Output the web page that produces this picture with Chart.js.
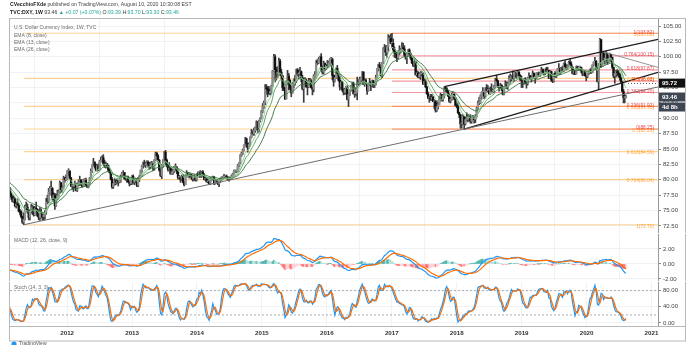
<!DOCTYPE html>
<html>
<head>
<meta charset="utf-8">
<script src="https://cdn.jsdelivr.net/npm/chart.js@4.4.1/dist/chart.umd.min.js"></script>
<style>
  html, body { margin: 0; padding: 0; background: #fff; }
  body { width: 693px; height: 345px; overflow: hidden; position: relative; }
  canvas { position: absolute; left: 0; }
  #main { top: 0; }
  #macd { top: 234px; }
  #stoch { top: 282px; }
</style>
</head>
<body>
<canvas id="main" width="693" height="233"></canvas>
<canvas id="macd" width="693" height="47"></canvas>
<canvas id="stoch" width="693" height="63"></canvas>
<script>
// Weekly DXY bars, [high, low, close]; each block starts on the Monday listed in blockStarts.
const dxy2010 = [
  [85.4,83.8,84.2],[84.5,82.6,82.9],[83.4,81.9,82.5],[83.0,81.5,81.6],
  [81.9,80.1,80.1],[82.6,80.1,82.4],[83.2,81.9,83.0],[83.7,82.5,82.9],[83.0,81.9,82.3],
  [83.2,82.2,82.8],[82.9,81.3,81.4],[81.5,79.9,80.0],[80.2,78.3,78.6],
  [78.7,77.0,77.4],[77.8,76.4,77.2],[77.9,76.8,77.3],[77.5,76.7,76.9],
  [77.2,75.6,76.4],[78.8,76.3,78.6],[79.4,78.0,78.4],[80.5,78.2,80.4],[81.4,79.2,79.4],
  [80.3,78.8,79.9],[80.8,79.5,80.4],[80.9,80.0,80.5],[80.7,78.9,79.0]
];
const dxy2011 = [
  [81.0,78.9,80.9],[81.4,79.1,79.4],[79.6,78.1,78.3],[78.5,77.3,77.8],
  [78.2,76.9,77.6],[78.8,77.4,78.4],[78.8,77.6,77.7],[77.9,76.8,77.2],
  [77.4,76.4,76.5],[77.4,76.3,76.9],[77.1,75.6,75.8],[76.3,75.4,76.1],
  [76.9,75.8,75.9],[76.2,74.8,74.9],[75.2,74.3,74.7],[75.0,73.8,74.0],[74.1,72.9,73.1],
  [74.7,72.7,73.6],[75.9,73.5,75.5],[76.4,75.1,75.6],[76.1,74.6,74.9],
  [75.0,73.5,73.9],[75.1,73.5,74.9],[76.0,74.6,75.4],[75.9,74.4,75.6],
  [75.7,74.1,74.3],[75.6,74.2,75.4],[76.4,74.8,75.2],[75.3,74.0,74.2],[74.6,73.5,73.9],
  [75.5,73.4,74.8],[75.3,73.8,74.6],[74.7,73.5,74.0],[74.5,73.4,74.3],
  [75.0,73.6,74.6],[77.0,74.4,76.9],[77.5,76.1,76.5],[78.6,76.3,78.0],[78.9,77.5,78.6],
  [79.8,78.3,78.6],[78.8,76.7,77.0],[77.9,76.5,77.5],[77.8,75.2,75.8],
  [77.7,75.7,76.9],[78.3,76.8,77.4],[78.4,77.3,78.1],[79.8,77.8,79.5],
  [79.6,77.9,78.4],[79.0,78.0,78.7],[80.6,78.5,80.3],[80.4,79.6,80.0],[80.8,79.9,80.2]
];
const dxy2012 = [
  [81.5,80.1,81.4],[81.8,80.7,81.4],[81.5,80.1,80.3],[80.4,78.9,79.0],
  [79.3,78.5,79.0],[79.1,78.1,79.0],[79.8,78.7,79.3],[79.4,78.2,78.3],
  [79.5,78.1,79.3],[80.0,79.0,79.5],[80.6,79.1,80.0],[80.0,79.1,79.4],[79.7,78.8,78.9],
  [80.1,78.9,79.9],[80.2,79.3,79.9],[80.3,79.0,79.1],[79.3,78.8,78.8],
  [79.6,78.7,79.4],[80.4,79.3,80.3],[81.8,80.2,81.4],[82.5,81.2,82.4],
  [83.5,82.2,82.9],[82.9,81.9,82.4],[82.6,81.5,81.6],[82.5,81.4,82.3],[82.6,81.5,81.6],
  [83.2,81.6,83.0],[83.7,82.9,83.2],[83.9,82.9,83.6],[84.1,82.4,82.6],
  [83.2,82.0,82.3],[82.9,81.9,82.6],[82.7,82.1,82.3],[82.4,81.4,81.6],[81.9,81.1,81.2],
  [81.4,80.0,80.1],[80.4,78.6,78.9],[79.5,78.6,79.4],[80.2,79.1,79.9],
  [80.0,79.2,79.6],[80.2,79.4,79.7],[79.9,79.0,79.6],[80.2,79.5,80.0],
  [80.8,79.6,80.6],[81.2,80.4,81.0],[81.5,80.8,81.2],[81.2,80.1,80.2],[80.4,79.9,80.1],
  [80.6,79.6,80.4],[80.6,79.6,79.7],[79.7,79.0,79.4],[80.0,79.2,79.8],
  [80.7,79.2,80.6]
];
const dxy2013 = [
  [80.8,79.4,79.6],[80.1,79.2,79.9],[80.2,79.5,79.9],
  [80.0,78.9,79.1],[80.4,78.9,80.2],[80.7,79.7,80.5],[81.6,80.4,81.5],
  [82.4,81.2,82.3],[82.9,81.9,82.7],[83.2,82.2,82.4],[82.9,82.0,82.6],[83.1,82.4,82.9],
  [83.1,82.1,82.6],[82.8,81.7,82.1],[82.9,81.8,82.6],[83.0,82.1,82.6],
  [82.7,81.5,81.9],[83.3,81.6,83.2],[84.5,83.1,84.3],[84.5,83.3,83.9],[84.1,82.9,83.2],
  [83.3,81.4,81.6],[81.8,80.5,80.7],[82.5,80.2,82.3],[83.3,82.1,83.1],
  [84.6,82.9,84.5],[84.8,82.5,83.2],[83.4,82.1,82.4],[82.5,81.4,81.7],
  [82.8,81.6,81.9],[82.0,80.9,81.0],[81.8,80.9,81.3],[81.8,80.9,81.4],[82.2,81.2,82.1],
  [82.6,81.6,82.1],[82.1,81.0,81.4],[81.5,80.1,80.4],[80.7,80.1,80.4],
  [80.6,79.6,80.1],[80.8,79.9,80.6],[80.8,79.5,79.6],[79.7,79.0,79.2],
  [80.8,79.2,80.7],[81.5,80.4,81.1],[81.2,80.6,80.9],[81.1,80.3,80.9],[81.0,80.5,80.7],
  [80.9,80.0,80.2],[80.4,79.8,80.2],[80.8,79.9,80.5],[80.6,79.8,80.0],
  [81.0,79.8,80.9]
];
const dxy2014 = [
  [81.3,80.5,80.6],[81.3,80.4,81.2],[81.5,80.4,80.6],[81.4,80.4,81.3],
  [81.5,80.6,80.7],[81.0,80.0,80.1],[80.5,79.9,80.2],[80.4,79.6,79.7],
  [80.3,79.5,79.7],[80.0,79.3,79.4],[80.4,79.2,80.2],[80.4,79.9,80.2],
  [80.6,80.1,80.5],[80.5,79.2,79.4],[80.0,79.3,79.9],[80.0,79.6,79.8],
  [79.9,79.2,79.4],[80.0,78.9,79.9],[80.3,79.6,80.2],[80.5,79.9,80.4],[80.6,80.1,80.4],
  [80.9,80.2,80.5],[80.7,80.3,80.6],[80.8,80.3,80.4],[80.5,79.9,80.1],
  [80.5,79.8,80.3],[80.4,80.0,80.1],[80.8,80.1,80.6],[81.1,80.5,81.0],
  [81.6,80.9,81.4],[81.6,81.2,81.4],[81.6,81.2,81.4],[82.5,81.3,82.3],[82.8,82.1,82.7],
  [84.1,82.6,84.0],[84.5,83.8,84.3],[85.0,84.1,84.8],[85.7,84.7,85.6],
  [86.9,85.5,86.7],[86.8,85.3,85.8],[86.0,84.5,85.2],[86.0,85.1,85.8],[87.0,85.5,86.9],
  [88.2,86.8,87.6],[88.0,87.3,87.5],[88.4,87.2,88.0],[88.6,87.7,88.4],
  [89.6,88.1,89.4],[89.5,87.6,88.4],[89.7,87.8,89.6],[90.1,89.4,89.9],
  [91.3,89.9,91.1]
];
const dxy2015 = [
  [92.4,90.9,91.9],[92.8,91.6,92.5],[95.5,92.2,95.0],[95.5,93.9,94.8],
  [95.2,93.5,94.6],[95.2,93.9,94.1],[94.8,93.8,94.4],[95.4,94.0,95.3],
  [97.8,95.2,97.7],[100.4,97.6,100.0],[100.3,95.9,97.9],[98.3,96.2,97.2],
  [98.4,96.6,97.5],[99.8,96.9,99.3],[99.6,97.2,97.5],[98.0,96.4,96.9],
  [97.0,94.5,95.0],[96.0,94.5,94.8],[95.0,93.1,93.1],[96.1,93.2,96.0],[97.8,95.5,96.9],
  [97.3,94.6,96.2],[96.3,94.6,94.9],[95.3,93.5,94.1],[95.8,94.1,95.5],
  [96.4,94.9,96.3],[97.0,95.4,96.1],[98.0,95.8,97.9],[98.1,96.9,97.2],[97.8,96.4,97.3],
  [98.3,97.0,97.6],[97.7,95.9,96.6],[97.0,94.6,94.8],[96.5,92.6,96.1],
  [96.6,95.2,96.2],[96.4,95.0,95.2],[95.8,93.8,95.1],[96.5,95.0,96.0],
  [96.5,95.3,96.1],[96.3,94.9,95.0],[95.1,93.8,94.7],[97.1,94.3,96.9],[97.6,96.3,96.9],
  [99.4,96.9,99.3],[99.6,98.7,99.0],[99.9,98.9,99.6],[100.1,99.3,100.0],
  [100.5,97.7,98.4],[98.6,97.2,97.5],[99.3,97.2,98.9],[99.0,97.7,98.0],
  [98.7,97.9,98.6]
];
const dxy2016 = [
  [99.4,98.2,98.5],[99.3,98.4,99.0],[99.7,98.6,99.6],[99.9,98.8,99.6],
  [99.8,96.3,97.0],[97.1,95.2,96.0],[97.0,95.9,96.6],[98.2,96.5,98.1],
  [98.6,97.2,97.3],[97.6,96.0,96.2],[96.9,94.6,95.1],[96.1,94.9,95.9],
  [96.0,94.4,94.6],[94.8,93.8,94.2],[94.9,93.9,94.7],[95.2,93.9,95.1],[95.3,93.0,93.1],
  [94.0,91.9,93.9],[94.7,93.7,94.6],[95.3,94.4,95.3],[95.8,95.1,95.5],
  [95.9,93.9,94.0],[94.2,93.4,94.1],[95.0,93.7,94.2],[96.7,93.0,95.6],
  [96.3,95.3,95.6],[96.7,95.5,96.3],[96.7,95.8,96.6],[97.6,96.5,97.5],[97.6,95.5,95.5],
  [96.4,95.2,96.2],[96.4,95.6,95.7],[95.7,93.9,94.5],[95.6,94.4,95.5],
  [96.5,95.4,95.8],[96.0,94.5,95.3],[96.2,95.1,96.1],[96.2,95.0,95.4],[95.8,95.0,95.5],
  [97.0,95.4,96.6],[98.1,96.4,98.0],[98.8,97.7,98.7],[99.1,98.2,98.3],
  [98.3,96.9,97.0],[99.1,96.6,99.0],[101.5,98.9,101.2],[102.0,100.8,101.5],
  [101.8,100.2,100.7],[101.8,99.9,101.6],[103.6,100.9,102.9],[103.4,102.6,103.0],[103.7,102.1,102.2]
];
const dxy2017 = [
  [103.8,101.5,102.2],[102.9,100.9,101.2],[101.6,99.9,100.7],[100.8,99.8,100.5],
  [100.6,99.2,99.8],[101.0,99.7,100.8],[101.8,100.3,101.0],[101.4,100.6,101.1],
  [102.3,101.0,101.5],[102.2,101.1,101.3],[101.8,100.1,100.3],[100.5,99.6,99.8],[100.7,98.9,100.4],
  [101.2,100.3,101.1],[101.3,100.3,100.5],[100.6,99.5,99.8],[99.9,98.9,99.0],
  [99.2,98.4,98.6],[99.7,98.5,99.2],[99.2,97.0,97.1],[97.7,96.8,97.4],
  [97.6,96.6,96.7],[97.4,96.5,97.2],[97.6,96.3,97.2],[97.6,96.9,97.3],[97.4,95.5,95.6],
  [96.4,95.6,96.0],[96.3,95.0,95.1],[95.2,93.9,94.0],[94.3,93.2,93.3],
  [93.6,92.6,93.5],[93.9,92.9,93.1],[93.9,92.9,93.4],[93.6,92.7,92.7],
  [93.0,91.6,92.8],[92.9,91.0,91.3],[92.5,91.1,91.9],[92.9,91.5,92.2],[93.6,92.2,93.1],
  [94.1,92.8,93.8],[93.9,92.8,93.1],[93.9,92.8,93.7],[95.1,93.3,94.9],
  [95.1,94.3,94.8],[95.0,94.2,94.4],[94.5,93.5,93.7],[94.0,92.6,92.8],
  [93.5,92.5,93.1],[94.1,92.9,93.9],[94.2,93.1,93.9],[94.0,93.0,93.3],[93.4,92.1,92.1]
];
const dxy2018 = [
  [92.3,91.7,91.9],[92.5,90.8,90.9],[91.0,90.1,90.6],[90.6,88.4,89.1],
  [89.4,88.4,89.2],[90.6,89.0,90.3],[90.3,88.25,89.1],[90.2,88.9,89.8],
  [90.9,89.6,89.9],[90.6,89.4,90.1],[90.4,89.6,90.2],[90.6,89.2,89.5],[90.2,89.2,90.1],
  [90.5,89.8,90.1],[90.1,89.2,89.8],[90.6,89.3,90.3],[91.8,90.2,91.6],
  [92.8,91.5,92.5],[93.4,92.2,92.5],[93.8,92.4,93.6],[94.3,93.1,94.2],
  [95.0,93.8,94.2],[94.2,93.2,93.6],[95.0,93.3,94.8],[95.5,94.4,94.5],[95.3,94.3,94.5],
  [94.9,93.9,94.0],[95.1,93.9,94.7],[95.6,94.3,94.4],[94.8,94.1,94.6],
  [95.4,94.3,95.1],[96.5,94.9,96.4],[97.0,95.9,96.1],[96.2,95.0,95.2],[95.4,94.4,95.1],
  [95.7,94.8,95.4],[95.5,94.5,94.9],[95.0,93.8,93.9],[95.2,93.8,95.1],
  [96.1,94.9,95.6],[95.9,94.8,95.2],[95.9,94.7,95.7],[96.9,95.5,96.4],
  [97.2,95.7,96.4],[97.0,96.0,96.9],[97.7,96.4,96.5],[97.0,96.0,96.9],[97.5,96.8,97.2],
  [97.4,96.4,96.6],[97.6,96.6,97.5],[97.6,96.6,96.9],[97.1,96.1,96.3],
  [96.9,95.0,96.2]
];
const dxy2019 = [
  [96.3,95.0,95.7],[96.4,95.5,96.4],[96.6,95.7,95.8],
  [95.9,94.9,95.6],[96.7,95.4,96.6],[97.4,96.4,96.9],[97.0,96.3,96.5],
  [96.9,95.9,96.5],[97.7,96.4,97.3],[97.4,96.5,96.6],[96.8,95.7,96.6],[97.4,96.5,97.3],
  [97.5,96.9,97.4],[97.5,96.8,97.0],[97.5,96.8,97.4],[98.3,97.3,98.0],
  [98.0,97.2,97.5],[97.8,97.0,97.3],[98.0,97.1,98.0],[98.3,97.5,97.6],[98.3,97.5,97.8],
  [97.8,96.5,96.5],[97.7,96.5,97.6],[97.7,96.0,96.2],[96.4,95.8,96.1],
  [97.3,95.9,97.3],[97.6,96.7,96.8],[97.2,96.6,97.2],[98.1,97.1,98.0],
  [98.9,97.9,98.1],[98.2,97.1,97.5],[98.3,97.4,98.1],[98.5,97.6,97.7],[99.0,97.6,98.9],
  [99.4,98.1,98.4],[98.7,97.9,98.3],[98.7,98.1,98.5],[99.3,98.4,99.1],
  [99.7,98.7,98.8],[99.2,98.2,98.3],[98.4,97.2,97.3],[97.9,97.1,97.8],
  [97.9,97.1,97.2],[98.5,97.2,98.4],[98.5,97.9,98.0],[98.4,97.8,98.3],[98.5,98.1,98.3],
  [98.3,97.4,97.7],[97.8,96.9,97.2],[97.8,97.0,97.7],[97.7,96.9,96.9],
  [96.9,96.1,96.8]
];
const dxy2020 = [
  [97.5,96.6,97.4],[97.7,97.1,97.6],[98.0,97.3,97.9],[98.2,97.3,97.4],
  [98.7,97.4,98.7],[99.2,98.5,99.1],[99.9,99.1,99.3],[99.4,97.9,98.1],
  [98.3,95.9,96.0],[98.9,94.65,98.7],[103.0,98.6,102.8],[102.8,98.3,98.4],
  [100.9,98.4,100.6],[100.8,99.3,99.5],[100.4,98.8,99.8],[100.9,99.7,100.4],
  [100.6,98.8,99.1],[100.2,99.0,99.7],[100.6,99.6,100.4],[100.4,99.2,99.9],[99.9,98.1,98.3],
  [98.3,96.6,96.9],[97.4,95.7,97.3],[97.8,96.7,97.6],[97.9,96.9,97.4],
  [97.8,96.7,97.2],[97.3,96.2,96.6],[96.8,95.7,96.0],[96.0,94.3,94.4],[94.7,92.5,93.35],
  [93.9,92.5,93.39],[93.70,93.30,93.46]
];
const blocks = [dxy2010, dxy2011, dxy2012, dxy2013, dxy2014, dxy2015, dxy2016, dxy2017, dxy2018, dxy2019, dxy2020];
const blockStarts = ['2010-07-05', '2011-01-03', '2012-01-02', '2013-01-07', '2014-01-06', '2015-01-05',
  '2016-01-04', '2017-01-02', '2018-01-01', '2019-01-07', '2020-01-06'];

const priceTicks = [72.5, 75, 77.5, 80, 82.5, 85, 87.5, 90, 92.5, 95, 97.5, 100, 102.5, 105];
const macdTicks = [-2, 0, 2];
const stochTicks = [0, 40, 80];
const stochBands = [80, 20];
const yearTicks = [2012, 2013, 2014, 2015, 2016, 2017, 2018, 2019, 2020, 2021];

// fibonacci retracements: [start date, level-0 price, level-1 price]
const fibRatios = [0, 0.236, 0.382, 0.5, 0.618, 0.764, 1];
const longFib = ['2011-05-02', 103.82, 72.70];
const shortFib = ['2017-01-02', 88.25, 103.82];

// trend lines: [date A, price A, date B, price B], extended to the right edge
const supportLine = ['2011-05-02', 72.70, '2018-02-12', 88.25];
const channelTop = ['2017-10-23', 95.15, '2019-09-30', 99.67];
const channelBottom = ['2018-02-12', 88.25, '2020-03-09', 94.65];
const fadeLine = ['2020-04-06', 100.8, '2020-10-05', 99.3];

const lastMark = 95.72;
const lastClose = 93.46;

const X_MIN = 2011.12, X_MAX = 2021.10;
const FONT = '"Liberation Sans", Arial, sans-serif';
Chart.defaults.font.family = FONT;

const DAY = 864e5;
function yearOf(iso, weeks = 0) {
  const t = Date.parse(iso + 'T00:00:00Z') + weeks * 7 * DAY;
  const y = new Date(t).getUTCFullYear();
  const a = Date.UTC(y, 0, 1), b = Date.UTC(y + 1, 0, 1);
  return y + (t - a) / (b - a);
}

// flatten the blocks into bars; weekly open is the prior week's close
const bars = [];
blocks.forEach((block, b) => {
  block.forEach(([h, l, c], k) => bars.push({ x: yearOf(blockStarts[b], k), h, l, c }));
});
bars.forEach((bar, i) => { bar.o = i ? bars[i - 1].c : bar.c; });

const closes = bars.map(b => b.c);

function ema(src, n) {
  const k = 2 / (n + 1);
  let prev = src[0];
  return src.map((v, i) => (prev = i === 0 ? v : v * k + prev * (1 - k)));
}
function sma(src, n) {
  return src.map((v, i) => {
    const s = Math.max(0, i - n + 1);
    let sum = 0;
    for (let j = s; j <= i; j++) sum += src[j];
    return sum / (i - s + 1);
  });
}
const pts = arr => arr.map((y, i) => ({ x: bars[i].x, y }));

const ema8 = ema(closes, 8), ema13 = ema(closes, 13), ema26 = ema(closes, 26);
const ema12 = ema(closes, 12);
const macdLine = ema12.map((v, i) => v - ema26[i]);
const signal = ema(macdLine, 9);
const hist = macdLine.map((v, i) => v - signal[i]);

const rawK = bars.map((b, i) => {
  let hh = -Infinity, ll = Infinity;
  for (let j = Math.max(0, i - 13); j <= i; j++) { hh = Math.max(hh, bars[j].h); ll = Math.min(ll, bars[j].l); }
  return hh === ll ? 50 : 100 * (b.c - ll) / (hh - ll);
});
const stochK = sma(rawK, 3);
const stochD = sma(stochK, 3);

function extend(line) {
  const x1 = yearOf(line[0]), x2 = yearOf(line[2]);
  const slope = (line[3] - line[1]) / (x2 - x1);
  return [{ x: x1, y: line[1] }, { x: X_MAX, y: line[1] + slope * (X_MAX - x1) }];
}
function fibValues(fib) {
  return fibRatios.map(r => ({ r, v: fib[1] + r * (fib[2] - fib[1]) }));
}

const GRID = '#f0f2f6';
const AXIS_W = 27;

function xScale(showLabels) {
  return {
    type: 'linear', min: X_MIN, max: X_MAX, offset: false,
    afterBuildTicks: s => { s.ticks = yearTicks.map(v => ({ value: v })); },
    afterFit: s => { s.height = showLabels ? 15 : 0; s.paddingLeft = 0; s.paddingRight = 0; },
    grid: { color: GRID, drawTicks: false },
    border: { display: false },
    ticks: showLabels
      ? { display: true, padding: 4, color: '#333', font: { size: 6.2, weight: 'bold' }, callback: v => String(v), maxRotation: 0, autoSkip: false }
      : { display: false }
  };
}
function yScale(min, max, ticks, digits) {
  return {
    position: 'right', min, max,
    afterBuildTicks: s => { s.ticks = ticks.map(v => ({ value: v })); },
    afterFit: s => { s.width = AXIS_W; s.paddingTop = 0; s.paddingBottom = 0; },
    grid: { color: GRID, tickLength: 3, tickColor: '#888' },
    border: { display: true, color: '#9a9a9a' },
    ticks: { padding: 2, color: '#444', font: { size: 6 }, autoSkip: false, callback: v => v.toFixed(digits) }
  };
}
const baseOpts = {
  responsive: false, animation: false, events: [],
  plugins: { legend: { display: false }, tooltip: { enabled: false } }
};

function frame(chart, ctx) {
  const a = chart.chartArea;
  ctx.save();
  ctx.strokeStyle = '#b8b8b8';
  ctx.lineWidth = 1;
  ctx.strokeRect(a.left - 0.5, a.top - 0.5, a.right - a.left + AXIS_W + 1, a.bottom - a.top + 1);
  ctx.restore();
}
function paneText(ctx, lines, x, y0, step) {
  ctx.save();
  ctx.font = `5px ${FONT}`;
  ctx.fillStyle = '#6b6b6b';
  ctx.textBaseline = 'middle';
  lines.forEach((t, i) => ctx.fillText(t, x, y0 + i * step));
  ctx.restore();
}
function runs(ctx, parts, x, y) {
  parts.forEach(([t, color, bold]) => {
    ctx.font = `${bold ? 'bold ' : ''}5.2px ${FONT}`;
    ctx.fillStyle = color;
    ctx.fillText(t, x, y);
    x += ctx.measureText(t).width;
  });
}

// ---------- price pane ----------
const longLevels = fibValues(longFib);
const shortLevels = fibValues(shortFib);
const FIB_LONG = 'rgba(255,152,0,0.42)';
const FIB_SHORT = 'rgba(242,54,69,0.5)';

const fibSets = [
  ...longLevels.map(({ v }) => ({ start: longFib[0], v, color: FIB_LONG })),
  ...shortLevels.map(({ v }) => ({ start: shortFib[0], v, color: FIB_SHORT }))
].map(f => ({
  type: 'line', data: [{ x: yearOf(f.start), y: f.v }, { x: X_MAX, y: f.v }],
  borderColor: f.color, borderWidth: 1.2, pointRadius: 0, order: 10
}));

const trendSets = [
  [supportLine, '#6e6e6e', 1],
  [channelTop, '#1c1c1c', 1.3],
  [channelBottom, '#1c1c1c', 1.3],
  [fadeLine, '#8a8a8a', 0.9]
].map(([line, color, w]) => ({
  type: 'line', data: extend(line), borderColor: color, borderWidth: w, pointRadius: 0, order: 1
}));

const overlayMain = {
  id: 'overlayMain',
  afterDraw(chart) {
    const { ctx, chartArea: a, scales: { x, y } } = chart;
    frame(chart, ctx);
    ctx.save();
    ctx.textBaseline = 'middle';
    runs(ctx, [['CVecchioFXde', '#222', true], [' published on TradingView.com, August 10, 2020 10:30:08 EST', '#444', false]], 10, 5);
    runs(ctx, [['TVC:DXY, 1W', '#222', true], [' 93.46 ', '#333', false], ['\u25B2 +0.07 (+0.07%)', '#26a69a', false],
      [' O:', '#333', false], ['93.39', '#26a69a', false], [' H:', '#333', false], ['93.70', '#26a69a', false],
      [' L:', '#333', false], ['93.30', '#26a69a', false], [' C:', '#333', false], ['93.46', '#26a69a', false]], 10, 13);
    ctx.restore();

    paneText(ctx, ['U.S. Dollar Currency Index, 1W, TVC', 'EMA (8, close)', 'EMA (13, close)', 'EMA (26, close)'], a.left + 4, a.top + 9, 7.2);

    // fib labels at the right edge
    ctx.save();
    ctx.font = `4.8px ${FONT}`;
    ctx.textAlign = 'right';
    ctx.textBaseline = 'middle';
    longLevels.forEach(({ r, v }) => {
      ctx.fillStyle = 'rgba(255,140,0,0.75)';
      ctx.fillText(`${r}(${v.toFixed(2)})`, a.right - 4, y.getPixelForValue(v) + 1.5);
    });
    shortLevels.forEach(({ r, v }) => {
      ctx.fillStyle = 'rgba(230,40,50,0.85)';
      ctx.fillText(`${r}(${v.toFixed(2)})`, a.right - 4, y.getPixelForValue(v) - 1);
    });
    ctx.restore();

    // dotted line from the last bar to the axis
    ctx.save();
    const py = Math.round(y.getPixelForValue(lastMark)) + 0.5;
    ctx.strokeStyle = '#555';
    ctx.setLineDash([1, 2]);
    ctx.beginPath();
    ctx.moveTo(x.getPixelForValue(bars[bars.length - 1].x) + 2, py);
    ctx.lineTo(a.right, py);
    ctx.stroke();
    ctx.restore();

    // axis value tags
    ctx.save();
    ctx.font = `bold 6px ${FONT}`;
    ctx.textBaseline = 'middle';
    ctx.textAlign = 'left';
    const tag = (val, bg, text, dy) => {
      const cy = y.getPixelForValue(val) + dy;
      ctx.fillStyle = bg;
      ctx.fillRect(a.right + 1, cy - 4.5, AXIS_W - 1, 9);
      ctx.fillStyle = '#fff';
      ctx.fillText(text, a.right + 4, cy + 0.3);
    };
    tag(lastMark, '#111', lastMark.toFixed(2), 0);
    tag(lastClose, '#3e4654', lastClose.toFixed(2), 0);
    tag(lastClose, '#3e4654', '4d 8h', 10);
    ctx.restore();
  }
};

new Chart(document.getElementById('main'), {
  type: 'bar',
  data: {
    datasets: [
      ...fibSets,
      {
        type: 'bar', grouped: false, order: 6,
        data: bars.map(b => ({ x: b.x, y: [b.l, b.h] })),
        backgroundColor: '#3c3c3c', barThickness: 1, borderWidth: 0
      },
      {
        type: 'bar', grouped: false, order: 5, minBarLength: 1,
        data: bars.map(b => ({ x: b.x, y: [Math.min(b.o, b.c), Math.max(b.o, b.c)] })),
        backgroundColor: bars.map(b => (b.c >= b.o ? '#8d8d8d' : '#111')), barThickness: 1.6, borderWidth: 0
      },
      { type: 'line', data: pts(ema8), borderColor: '#8bc98d', borderWidth: 0.9, pointRadius: 0, order: 3 },
      { type: 'line', data: pts(ema13), borderColor: '#4f9e55', borderWidth: 0.9, pointRadius: 0, order: 3 },
      { type: 'line', data: pts(ema26), borderColor: '#2f6f35', borderWidth: 0.9, pointRadius: 0, order: 3 },
      ...trendSets
    ]
  },
  options: {
    ...baseOpts,
    layout: { padding: { left: 10, right: 693 - 658 - AXIS_W, top: 19, bottom: 0 } },
    scales: { x: xScale(false), y: yScale(71.36, 106.14, priceTicks, 2) }
  },
  plugins: [overlayMain]
});

// ---------- MACD pane ----------
const histColors = hist.map((h, i) => {
  const prev = i ? hist[i - 1] : h;
  if (h >= 0) return h >= prev ? 'rgba(38,166,154,0.75)' : 'rgba(178,223,219,0.9)';
  return h <= prev ? 'rgba(255,82,82,0.75)' : 'rgba(255,205,210,0.9)';
});
new Chart(document.getElementById('macd'), {
  type: 'bar',
  data: {
    datasets: [
      { type: 'bar', grouped: false, order: 3, data: pts(hist), backgroundColor: histColors, barThickness: 1, borderWidth: 0 },
      { type: 'line', data: pts(macdLine), borderColor: '#2196f3', borderWidth: 1.2, pointRadius: 0, order: 2 },
      { type: 'line', data: pts(signal), borderColor: '#ff6d00', borderWidth: 1.2, pointRadius: 0, order: 1 }
    ]
  },
  options: {
    ...baseOpts,
    layout: { padding: { left: 10, right: 693 - 658 - AXIS_W, top: 0, bottom: 0 } },
    scales: { x: xScale(false), y: yScale(-2.267, 4.0, macdTicks, 2) }
  },
  plugins: [{
    id: 'overlayMacd',
    afterDraw(chart) {
      frame(chart, chart.ctx);
      paneText(chart.ctx, ['MACD (12, 26, close, 9)'], chart.chartArea.left + 4, chart.chartArea.top + 7, 0);
    }
  }]
});

// ---------- Stochastic pane ----------
new Chart(document.getElementById('stoch'), {
  type: 'line',
  data: {
    datasets: [
      ...stochBands.map(v => ({
        data: [{ x: X_MIN, y: v }, { x: X_MAX, y: v }], borderColor: '#9a9a9a', borderWidth: 0.8,
        borderDash: [2, 2], pointRadius: 0, order: 5
      })),
      { data: pts(stochK), borderColor: '#2196f3', borderWidth: 1.2, pointRadius: 0, order: 2 },
      { data: pts(stochD), borderColor: '#ff6d00', borderWidth: 1.2, pointRadius: 0, order: 1 }
    ]
  },
  options: {
    ...baseOpts,
    layout: { padding: { left: 10, right: 693 - 658 - AXIS_W, top: 0, bottom: 4 } },
    scales: { x: xScale(true), y: yScale(-7.43, 101.5, stochTicks, 2) }
  },
  plugins: [{
    id: 'overlayStoch',
    afterDraw(chart) {
      const { ctx, chartArea: a } = chart;
      frame(chart, ctx);
      ctx.save();
      ctx.strokeStyle = '#b8b8b8';
      ctx.strokeRect(a.left - 0.5, a.top - 0.5, a.right - a.left + AXIS_W + 1, 59 - a.top + 0.5);
      ctx.restore();
      paneText(ctx, ['Stoch (14, 3, 3)'], a.left + 4, a.top + 6, 0);
      // TradingView mark, bottom left
      ctx.save();
      ctx.fillStyle = '#2196f3';
      ctx.beginPath();
      ctx.arc(14, 62, 2.6, 0, Math.PI * 2);
      ctx.fill();
      ctx.font = `5px ${FONT}`;
      ctx.fillStyle = '#555';
      ctx.textBaseline = 'middle';
      ctx.fillText('TradingView', 19, 62);
      ctx.restore();
    }
  }]
});
</script>
</body>
</html>
